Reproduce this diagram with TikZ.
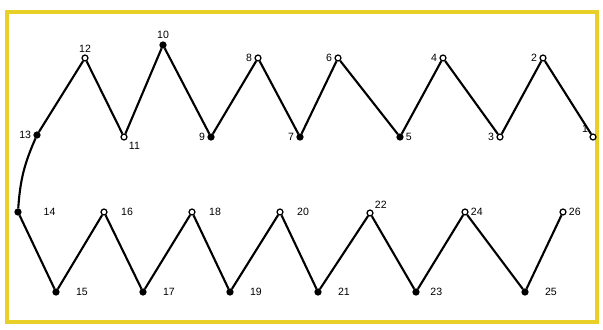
\documentclass[tikz,border=0pt]{standalone}
\usepackage{fontspec}
\setmainfont{Liberation Sans}
\definecolor{frameyellow}{RGB}{232,208,40}
\begin{document}
\begin{tikzpicture}[x=0.025cm, y=-0.025cm,
    vtx/.style={draw, circle, line width=0.9pt, minimum size=4.2pt, inner sep=0pt},
    full/.style={vtx, fill=black},
    lbl/.style={font=\fontsize{7.5}{9}\selectfont, inner sep=1.5pt},
    every label/.style={lbl},
    edge/.style={line width=1.5pt, line join=round}]

  \useasboundingbox (0,0) rectangle (603,329);
  \draw[frameyellow, line width=3pt] (7,12) rectangle (597,322);

  % upper row
  \node[full] (n13) at (37,135)  [label=left:13] {};
  \node[vtx]  (n12) at (85,58)   [label=above:12] {};
  \node[vtx]  (n11) at (124,137) [label=below right:11] {};
  \node[full] (n10) at (163,45)  [label=above:10] {};
  \node[full] (n9)  at (211,137) [label=left:9] {};
  \node[vtx]  (n8)  at (258,58)  [label=left:8] {};
  \node[full] (n7)  at (300,137) [label=left:7] {};
  \node[vtx]  (n6)  at (338,58)  [label=left:6] {};
  \node[full] (n5)  at (400,137) [label=right:5] {};
  \node[vtx]  (n4)  at (443,58)  [label=left:4] {};
  \node[vtx]  (n3)  at (500,137) [label=left:3] {};
  \node[vtx]  (n2)  at (543,58)  [label=left:2] {};
  \node[vtx]  (n1)  at (593,137) [label=above left:1] {};

  % lower row
  \node[full] (n14) at (18,212)  [label={[xshift=14pt]right:14}] {};
  \node[full] (n15) at (56,292)  [label={[xshift=10pt]right:15}] {};
  \node[vtx]  (n16) at (104,212) [label={[xshift=8pt]right:16}] {};
  \node[full] (n17) at (143,292) [label={[xshift=10pt]right:17}] {};
  \node[vtx]  (n18) at (192,212) [label={[xshift=8pt]right:18}] {};
  \node[full] (n19) at (230,292) [label={[xshift=10pt]right:19}] {};
  \node[vtx]  (n20) at (280,212) [label={[xshift=8pt]right:20}] {};
  \node[full] (n21) at (318,292) [label={[xshift=10pt]right:21}] {};
  \node[vtx]  (n22) at (370,213) [label=above right:22] {};
  \node[full] (n23) at (416,292) [label={[xshift=6pt]right:23}] {};
  \node[vtx]  (n24) at (465,212) [label=right:24] {};
  \node[full] (n25) at (525,292) [label={[xshift=10pt]right:25}] {};
  \node[vtx]  (n26) at (563,212) [label=right:26] {};

  \draw[edge] (n1) -- (n2);
  \draw[edge] (n2) -- (n3);
  \draw[edge] (n3) -- (n4);
  \draw[edge] (n4) -- (n5);
  \draw[edge] (n5) -- (n6);
  \draw[edge] (n6) -- (n7);
  \draw[edge] (n7) -- (n8);
  \draw[edge] (n8) -- (n9);
  \draw[edge] (n9) -- (n10);
  \draw[edge] (n10) -- (n11);
  \draw[edge] (n11) -- (n12);
  \draw[edge] (n12) -- (n13);
  \draw[edge] (n13) to[bend right=10] (n14);
  \draw[edge] (n14) -- (n15);
  \draw[edge] (n15) -- (n16);
  \draw[edge] (n16) -- (n17);
  \draw[edge] (n17) -- (n18);
  \draw[edge] (n18) -- (n19);
  \draw[edge] (n19) -- (n20);
  \draw[edge] (n20) -- (n21);
  \draw[edge] (n21) -- (n22);
  \draw[edge] (n22) -- (n23);
  \draw[edge] (n23) -- (n24);
  \draw[edge] (n24) -- (n25);
  \draw[edge] (n25) -- (n26);
\end{tikzpicture}
\end{document}
